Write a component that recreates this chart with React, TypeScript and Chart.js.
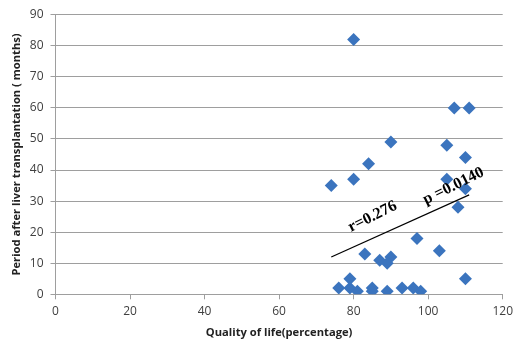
import React, { useEffect, useRef } from "react";
import { Chart, registerables } from "chart.js";

Chart.register(...registerables);

const qualityOfLife = [80, 107, 111, 90, 105, 110, 84, 80, 74, 105, 110, 108, 97, 103, 83, 87, 90, 89, 79, 110, 76, 79, 81, 85, 85, 89, 93, 96, 98];
const periodMonths = [82, 60, 60, 49, 48, 44, 42, 37, 35, 37, 34, 28, 18, 14, 13, 11, 12, 10, 5, 5, 2, 2, 1, 2, 1, 1, 2, 2, 1];

const trendX = [74, 111];
const trendY = [12, 32];

const annotationTexts = ["r=0.276", "p =0.0140"];
const annotationX = [85.1, 106.8];
const annotationY = [25, 34.8];

const xTicks = [0, 20, 40, 60, 80, 100, 120];
const yTicks = [0, 10, 20, 30, 40, 50, 60, 70, 80, 90];

const annotationPlugin = {
  id: "rotatedText",
  afterDatasetsDraw(chart: any) {
    const { ctx, scales } = chart;
    ctx.save();
    ctx.font = "bold 16px 'Liberation Serif'";
    ctx.fillStyle = "#000";
    ctx.textAlign = "center";
    ctx.textBaseline = "middle";
    annotationTexts.forEach((t, i) => {
      const px = scales.x.getPixelForValue(annotationX[i]);
      const py = scales.y.getPixelForValue(annotationY[i]);
      ctx.save();
      ctx.translate(px, py);
      ctx.rotate((-26.5 * Math.PI) / 180);
      ctx.fillText(t, 0, 0);
      ctx.restore();
    });
    ctx.restore();
  },
};

export default function App() {
  const ref = useRef<HTMLCanvasElement>(null);
  useEffect(() => {
    document.body.style.margin = "0";
    const chart = new Chart(ref.current!, {
      type: "scatter",
      data: {
        datasets: [
          {
            data: qualityOfLife.map((x, i) => ({ x, y: periodMonths[i] })),
            pointStyle: "rectRot",
            pointRadius: 6.5,
            backgroundColor: "#3b74be",
            borderColor: "#3b74be",
            borderWidth: 0,
          },
          {
            type: "line",
            data: trendX.map((x, i) => ({ x, y: trendY[i] })),
            borderColor: "#000",
            borderWidth: 1.2,
            pointRadius: 0,
            showLine: true,
            fill: false,
          } as any,
        ],
      },
      options: {
        animation: false,
        responsive: false,
        maintainAspectRatio: false,
        layout: { padding: { left: 0, top: 14.7, right: 11.3, bottom: 0 } },
        plugins: { legend: { display: false }, tooltip: { enabled: false } },
        scales: {
          x: {
            type: "linear",
            min: 0,
            max: 120,
            afterBuildTicks: (s: any) => {
              s.ticks = xTicks.map((v) => ({ value: v }));
            },
            afterFit: (s: any) => {
              s.height = 46.7;
              s.paddingLeft = 0;
              s.paddingRight = 0;
            },
            grid: {
              drawOnChartArea: false,
              drawTicks: true,
              tickLength: 5,
              color: "#9e9e9e",
            },
            border: { color: "#9e9e9e" },
            ticks: { color: "#404040", font: { family: "'Open Sans'", size: 12 }, padding: 5, maxRotation: 0 },
            title: {
              display: true,
              text: "Quality of life(percentage)",
              color: "#222",
              font: { family: "'Open Sans'", size: 11.2, weight: "bold" },
              padding: { top: 0, bottom: 1 },
            },
          },
          y: {
            type: "linear",
            min: 0,
            max: 90,
            afterBuildTicks: (s: any) => {
              s.ticks = yTicks.map((v) => ({ value: v }));
            },
            afterFit: (s: any) => {
              s.width = 55.5;
              s.paddingTop = 0;
              s.paddingBottom = 0;
            },
            grid: { color: "#9e9e9e", tickLength: 5, lineWidth: 1 },
            border: { color: "#9e9e9e" },
            ticks: { color: "#404040", font: { family: "'Open Sans'", size: 12 }, padding: 7 },
            title: {
              display: true,
              text: "Period after liver transplantation ( months)",
              color: "#222",
              font: { family: "'Open Sans'", size: 11.2, weight: "bold" },
              padding: { top: 10, bottom: 0 },
            },
          },
        },
      },
      plugins: [annotationPlugin],
    });
    return () => chart.destroy();
  }, []);
  return (
    <div style={{ width: 514, height: 341 }}>
      <canvas ref={ref} width={514} height={341} style={{ display: "block" }} />
    </div>
  );
}
